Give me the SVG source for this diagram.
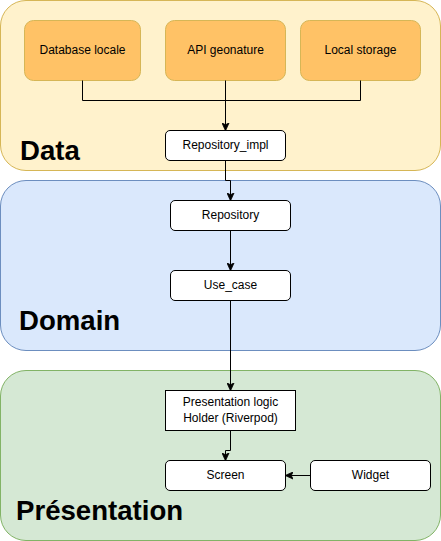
<svg xmlns="http://www.w3.org/2000/svg" width="441" height="541" viewBox="0 0 441 541">
<style>
.t{font-family:"Liberation Sans",Arial,sans-serif;font-size:12px;fill:#000;text-anchor:middle}
.big{font-family:"Liberation Sans",Arial,sans-serif;font-size:27.6px;font-weight:bold;fill:#000}
.w{fill:#fff;stroke:#000;stroke-width:1}
.o{fill:#ffc266;stroke:#d6b656;stroke-width:1}
.c{fill:none;stroke:#000;stroke-width:1}
</style>
<defs>
<marker id="a" viewBox="0 0 10 10" refX="9" refY="5" markerWidth="8" markerHeight="8" markerUnits="userSpaceOnUse" orient="auto">
<path d="M0,0.5 L10,5 L0,9.5 L2.5,5 z" fill="#000" stroke="#000" stroke-width="1"/>
</marker>
</defs>
<g id="data">
<rect x="0.5" y="0.5" width="440" height="170" rx="25.5" fill="#fff2cc" stroke="#d6b656"/>
<text class="big" x="20" y="159.5">Data</text>
</g>
<g id="domain">
<rect x="0.5" y="180.5" width="440" height="170" rx="25.5" fill="#dae8fc" stroke="#6c8ebf"/>
<text class="big" x="19" y="330">Domain</text>
</g>
<g id="presentation">
<rect x="0.5" y="370.5" width="440" height="170" rx="25.5" fill="#d5e8d4" stroke="#82b366"/>
<text class="big" x="16" y="520">Présentation</text>
</g>
<g id="database-locale">
<rect class="o" x="24.5" y="20.5" width="116" height="60" rx="9"/>
<text class="t" x="82.5" y="53.5">Database locale</text>
</g>
<g id="api-geonature">
<rect class="o" x="165.5" y="20.5" width="120" height="60" rx="9"/>
<text class="t" x="225.5" y="53.5">API geonature</text>
</g>
<g id="local-storage">
<rect class="o" x="300.5" y="20.5" width="120" height="60" rx="9"/>
<text class="t" x="360.5" y="53.5">Local storage</text>
</g>
<g id="repository-impl">
<rect class="w" x="165.5" y="130.5" width="120" height="30" rx="4.5"/>
<text class="t" x="225.5" y="148.5">Repository_impl</text>
</g>
<g id="repository">
<rect class="w" x="170.5" y="200.5" width="120" height="30" rx="4.5"/>
<text class="t" x="230.5" y="218.5">Repository</text>
</g>
<g id="use-case">
<rect class="w" x="170.5" y="270.5" width="120" height="30" rx="4.5"/>
<text class="t" x="230.5" y="288.5">Use_case</text>
</g>
<g id="presentation-logic">
<rect class="w" x="165.5" y="390.5" width="130" height="40"/>
<text class="t" x="230.5" y="406">Presentation logic</text>
<text class="t" x="230.5" y="421.5">Holder (Riverpod)</text>
</g>
<g id="screen">
<rect class="w" x="165.5" y="460.5" width="120" height="30" rx="4.5"/>
<text class="t" x="225.5" y="478.5">Screen</text>
</g>
<g id="widget">
<rect class="w" x="310.5" y="460.5" width="120" height="30" rx="4.5"/>
<text class="t" x="370.5" y="478.5">Widget</text>
</g>
<g id="connectors">
<path class="c" d="M82.5,80.5 V100.5 H360.5 V80.5"/>
<path class="c" d="M225.5,80.5 V130" marker-end="url(#a)"/>
<path class="c" d="M225.5,160.5 V180.5 H230.5 V200" marker-end="url(#a)"/>
<path class="c" d="M230.5,230.5 V270" marker-end="url(#a)"/>
<path class="c" d="M230.5,300.5 V390" marker-end="url(#a)"/>
<path class="c" d="M230.5,430.5 V450.5 H225.5 V460" marker-end="url(#a)"/>
<path class="c" d="M310.5,475.5 H286" marker-end="url(#a)"/>
</g>
</svg>
